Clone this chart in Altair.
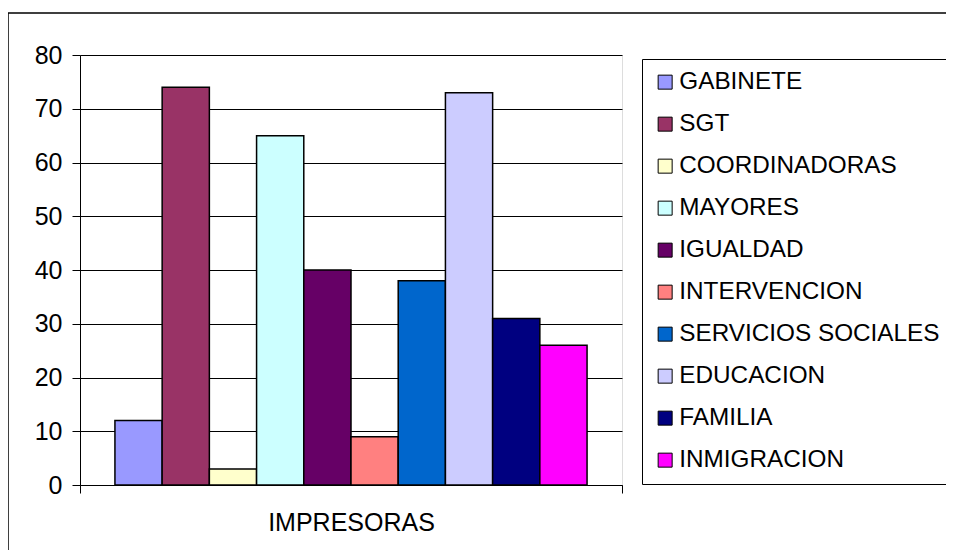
import altair as alt
import pandas as pd

series = ["GABINETE", "SGT", "COORDINADORAS", "MAYORES", "IGUALDAD",
          "INTERVENCION", "SERVICIOS SOCIALES", "EDUCACION", "FAMILIA", "INMIGRACION"]
values = [12, 74, 3, 65, 40, 9, 38, 73, 31, 26]
colors = ["#9999FF", "#993366", "#FFFFCC", "#CCFFFF", "#660066",
          "#FF8080", "#0066CC", "#CCCCFF", "#000080", "#FF00FF"]
category = ["IMPRESORAS"] * len(series)
y_ticks = [0, 10, 20, 30, 40, 50, 60, 70, 80]

df = pd.DataFrame({"cat": category, "serie": series, "valor": values})

FONT = "Liberation Sans"

bars = alt.Chart(df).mark_bar(stroke="black", strokeWidth=1.5).encode(
    x=alt.X("cat:N", title=None,
            scale=alt.Scale(paddingInner=0, paddingOuter=0),
            axis=alt.Axis(labelAngle=0, labelFontSize=25, labelFont=FONT,
                          labelColor="black", domainColor="black", tickColor="black",
                          tickSize=8, tickBand="extent", labelPadding=17, grid=False)),
    xOffset=alt.XOffset("serie:N", sort=series,
                        scale=alt.Scale(paddingInner=0, paddingOuter=0.74)),
    y=alt.Y("valor:Q", title=None,
            scale=alt.Scale(domain=[0, 80], nice=False),
            axis=alt.Axis(values=y_ticks, labelFontSize=25, labelFont=FONT,
                          labelColor="black", domainColor="black", tickColor="black",
                          tickSize=8, labelPadding=10, gridColor="black", gridWidth=1)),
    color=alt.Color("serie:N", sort=series,
                    scale=alt.Scale(domain=series, range=colors),
                    legend=alt.Legend(title=None, orient="none", legendX=562, legendY=4,
                                      symbolType="square", symbolSize=196,
                                      symbolStrokeColor="black", symbolStrokeWidth=1,
                                      labelFontSize=24.3, labelFont=FONT, labelColor="black",
                                      labelOffset=2, rowPadding=17, padding=11,
                                      strokeColor="black", labelLimit=400)),
)

border = alt.Chart(pd.DataFrame({"a": [0]})).mark_rect(
    fill=None, stroke="black", strokeWidth=1.5
).encode(
    x=alt.value(-72), x2=alt.value(1500), y=alt.value(-42), y2=alt.value(1500)
)

chart = alt.layer(bars, border).properties(
    width=542, height=430,
    autosize=alt.AutoSizeParams(type="none"),
    padding={"left": 72, "top": 47, "right": 324, "bottom": 65},
).configure_view(stroke="#a0a0a0", strokeWidth=2).configure(background="white")

chart.save("out.html", embed_options={"renderer": "svg", "actions": False})
